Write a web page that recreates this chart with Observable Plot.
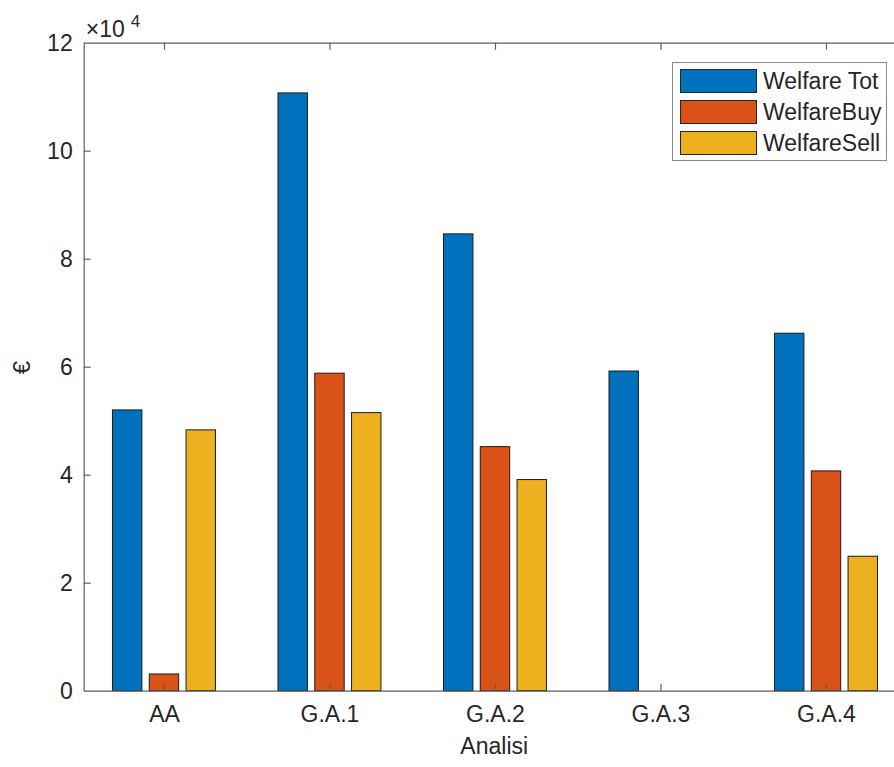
<!DOCTYPE html>
<html>
<head>
<meta charset="utf-8">
<script src="https://cdn.jsdelivr.net/npm/d3@7"></script>
<script src="https://cdn.jsdelivr.net/npm/@observablehq/plot@0.6"></script>
<style>
  html, body { margin: 0; padding: 0; background: #fff; overflow: hidden; }
  #wrap { position: relative; width: 894px; height: 767px; font-family: "Liberation Sans", Arial, Helvetica, sans-serif; color: #262626; }
  #wrap svg { display: block; }
  .legend { position: absolute; left: 672px; top: 62px; width: 215px; height: 99px; border: 1px solid #8a8a8a; background: #fff; box-sizing: border-box; }
  .legend .row { position: absolute; left: 7px; height: 23px; display: flex; align-items: center; }
  .legend .sw { width: 75px; height: 22px; border: 1px solid #262626; box-sizing: content-box; }
  .legend .lb { margin-left: 6px; font-size: 23px; letter-spacing: 0px; color: #262626; line-height: 23px; white-space: nowrap; }
</style>
</head>
<body>
<div id="wrap"></div>
<script>
// ---- data ----
const categories = ["AA", "G.A.1", "G.A.2", "G.A.3", "G.A.4"];
const seriesNames = ["Welfare Tot", "WelfareBuy", "WelfareSell"];
const welfareTot  = [52000, 110700, 84600, 59200, 66200];
const welfareBuy  = [3100,  58800,  45200, 0,     40700];
const welfareSell = [48300, 51500,  39100, 0,     24900];
const seriesColors = ["#0072BD", "#D95319", "#EDB120"];
const yTicks = [0, 20000, 40000, 60000, 80000, 100000, 120000];
const yTickLabels = ["0", "2", "4", "6", "8", "10", "12"];
const xLabel = "Analisi";
const yLabel = "€";
const exponentBase = "×10";
const exponentPower = "4";

// ---- build table ----
const seriesValues = [welfareTot, welfareBuy, welfareSell];
const nSeries = seriesNames.length;
const groupWidth = Math.min(0.8, nSeries / (nSeries + 1.5));
const barStep = groupWidth / nSeries;
const barWidth = barStep * 0.8;
const bars = [];
seriesValues.forEach((vals, s) => {
  vals.forEach((v, i) => {
    const center = (i + 1) + (s - (nSeries - 1) / 2) * barStep;
    bars.push({category: categories[i], series: seriesNames[s], value: v,
               x1: center - barWidth / 2, x2: center + barWidth / 2});
  });
});
const visibleBars = bars.filter(d => d.value > 0);

const W = 894, H = 767;
const mLeft = 83.7, mTop = 42.7, mBottom = H - 690.7;
const xDomain = [0.515, 5.5];
const xRange = [83.7, 908.75];
const yDomain = [0, 120000];
const yRange = [690.7, 42.7];
const pxPerX = (xRange[1] - xRange[0]) / (xDomain[1] - xDomain[0]);
const pxPerY = (yRange[0] - yRange[1]) / (yDomain[1] - yDomain[0]);
const tickLen = 7;
const catIdx = categories.map((c, i) => ({c, i: i + 1}));
const axisColor = "#5e5e5e";
const textColor = "#262626";
const fontFamily = '"Liberation Sans", Arial, Helvetica, sans-serif';
const fs = 23;
const ls = 0.7;

const chart = Plot.plot({
  width: W,
  height: H,
  marginLeft: mLeft,
  marginRight: 0,
  marginTop: mTop,
  marginBottom: mBottom,
  style: {fontFamily, color: textColor, background: "#fff", overflow: "hidden"},
  x: {type: "linear", domain: xDomain, range: xRange, axis: null},
  y: {type: "linear", domain: yDomain, range: yRange, axis: null},
  color: {domain: seriesNames, range: seriesColors},
  marks: [
    Plot.rect(visibleBars, {x1: "x1", x2: "x2", y1: 0, y2: "value", fill: "series",
      stroke: "#1c1c1c", strokeWidth: 1}),
    // axes box (left, bottom, top)
    Plot.ruleY([yDomain[0], yDomain[1]], {stroke: axisColor, strokeWidth: 1.2}),
    Plot.ruleX([xDomain[0]], {stroke: axisColor, strokeWidth: 1.2}),
    // y ticks (inward)
    Plot.ruleY(yTicks.slice(1, -1), {x1: xDomain[0], x2: xDomain[0] + tickLen / pxPerX, stroke: axisColor, strokeWidth: 1.2}),
    // x ticks bottom & top (inward)
    Plot.ruleX(catIdx, {x: "i", y1: yDomain[0], y2: yDomain[0] + tickLen / pxPerY, stroke: axisColor, strokeWidth: 1.2}),
    Plot.ruleX(catIdx, {x: "i", y1: yDomain[1] - tickLen / pxPerY, y2: yDomain[1], stroke: axisColor, strokeWidth: 1.2}),
    // y tick labels
    Plot.text(yTicks, {y: d => d, text: (d, i) => yTickLabels[i], frameAnchor: "left", textAnchor: "end",
      dx: -11.5, dy: 0.8, fontSize: fs, fill: textColor, letterSpacing: 0.5}),
    // x tick labels
    Plot.text(catIdx, {x: "i", text: "c", frameAnchor: "bottom", dy: 30.5, fontSize: fs, fill: textColor, letterSpacing: ls}),
    // x label
    Plot.text([xLabel], {x: (xDomain[0] + xDomain[1]) / 2, text: d => d, frameAnchor: "bottom", dx: -2.5, dy: 62.5, fontSize: fs, fill: textColor, letterSpacing: 1}),
    // y label
    Plot.text([yLabel], {y: (yDomain[0] + yDomain[1]) / 2, text: d => d, frameAnchor: "left", dx: -62, dy: 7, rotate: -90, fontSize: 24, fill: textColor}),
    // exponent
    Plot.text([exponentBase], {text: d => d, frameAnchor: "top-left", textAnchor: "start", lineAnchor: "bottom",
      dx: 1.5, dy: -6.5, fontSize: 23, fill: textColor, letterSpacing: 0.8}),
    Plot.text([exponentPower], {text: d => d, frameAnchor: "top-left", textAnchor: "start", lineAnchor: "bottom",
      dx: 46.5, dy: -16.5, fontSize: 17, fill: textColor})
  ]
});

const wrap = document.getElementById("wrap");
wrap.appendChild(chart);

// legend
const legend = document.createElement("div");
legend.className = "legend";
seriesNames.forEach((name, i) => {
  const row = document.createElement("div");
  row.className = "row";
  row.style.top = (6.5 + i * 31.2) + "px";
  const sw = document.createElement("div");
  sw.className = "sw";
  sw.style.background = seriesColors[i];
  const lb = document.createElement("div");
  lb.className = "lb";
  lb.textContent = name;
  row.appendChild(sw);
  row.appendChild(lb);
  legend.appendChild(row);
});
wrap.appendChild(legend);
</script>
</body>
</html>
